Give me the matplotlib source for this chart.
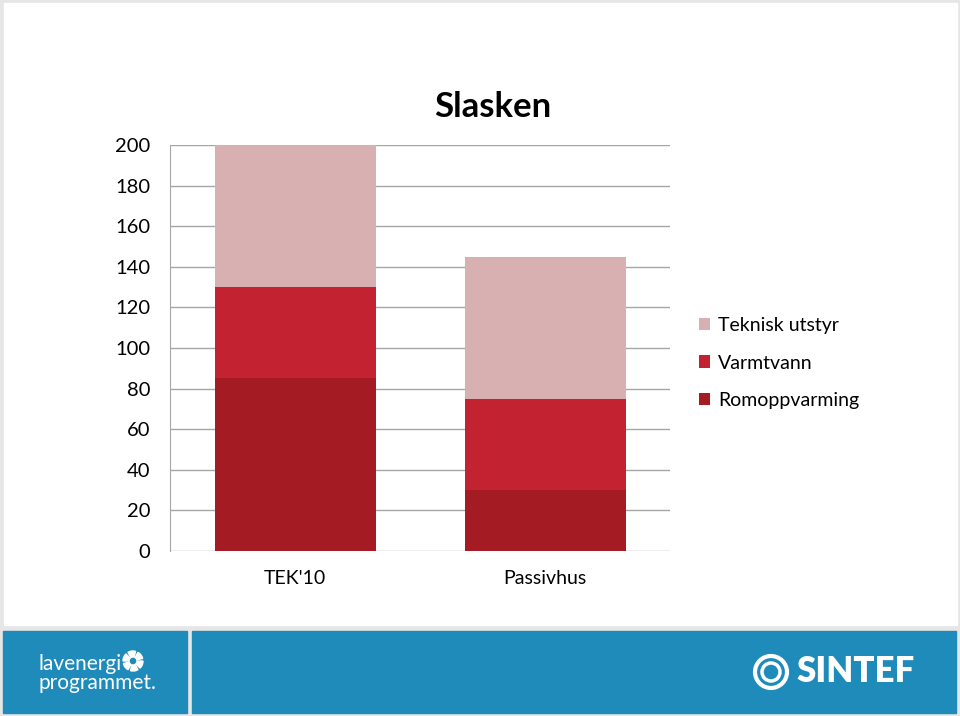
import matplotlib.pyplot as plt
from matplotlib.patches import Rectangle, Circle, Wedge

plt.rcParams['font.family'] = ['Lato', 'DejaVu Sans']

categories = ["TEK'10", "Passivhus"]
romoppvarming = [85, 30]
varmtvann = [45, 45]
teknisk = [70, 70]

series = ["Romoppvarming", "Varmtvann", "Teknisk utstyr"]
colors = ["#a51b24", "#c32330", "#d9b0b1"]
yticks = [0, 20, 40, 60, 80, 100, 120, 140, 160, 180, 200]

fig = plt.figure(figsize=(9.6, 7.16), dpi=100)
fig.patch.set_facecolor('#e6e6e6')

# slide background + footer boxes
bg = fig.add_axes([0, 0, 1, 1])
bg.set_xlim(0, 960)
bg.set_ylim(716, 0)
bg.axis('off')
bg.add_patch(Rectangle((4, 3), 953, 622, color='white'))
bg.add_patch(Rectangle((3, 631), 184, 82, color='#1f8bbb'))
bg.add_patch(Rectangle((192, 631), 764, 82, color='#1f8bbb'))

# lavenergi logo
bg.text(38, 664, 'lavenergi', color='white', fontsize=15,
        va='center', ha='left')
bg.text(38, 683, 'programmet.', color='white', fontsize=15,
        va='center', ha='left')
for a in range(0, 360, 60):
    bg.add_patch(Wedge((133, 661), 10, a, a + 45, width=6, color='white'))

# SINTEF logo
bg.add_patch(Circle((771, 672), 16, fill=False, ec='white', lw=3))
bg.add_patch(Circle((771, 672), 9, fill=False, ec='white', lw=2.5))
bg.text(796, 672, 'SINTEF', color='white', fontsize=25, fontweight='heavy',
        va='center', ha='left')

ax = fig.add_axes([170 / 960, 1 - 551 / 716, 500 / 960, 406 / 716])
ax.set_facecolor('none')

x = range(len(categories))
bottom = [0, 0]
for vals, name, c in zip([romoppvarming, varmtvann, teknisk], series, colors):
    ax.bar(x, vals, width=0.644, bottom=bottom, color=c, label=name, zorder=2)
    bottom = [b + v for b, v in zip(bottom, vals)]

ax.set_xlim(-0.5, 1.5)
ax.set_ylim(0, 200)
ax.set_yticks(yticks)
ax.yaxis.grid(True, color='#a6a6a6', lw=1)
ax.set_axisbelow(True)
for s in ['top', 'right', 'bottom']:
    ax.spines[s].set_visible(False)
ax.spines['left'].set_color('#a6a6a6')
ax.tick_params(axis='y', length=0, pad=14, labelsize=14.5)
ax.tick_params(axis='x', length=0, pad=14, labelsize=14)
ax.set_xticks(list(x))
ax.set_xticklabels(categories)

ax.set_title('Slasken', fontsize=25, fontweight='bold', pad=20, x=0.645)

h, l = ax.get_legend_handles_labels()
ax.legend(h[::-1], l[::-1], loc='center left', bbox_to_anchor=(1.022, 0.463),
          frameon=False, fontsize=14, handlelength=0.6, handleheight=0.6,
          handletextpad=0.4, labelspacing=1.05)

fig.savefig('out.png', dpi=100, facecolor=fig.get_facecolor())
